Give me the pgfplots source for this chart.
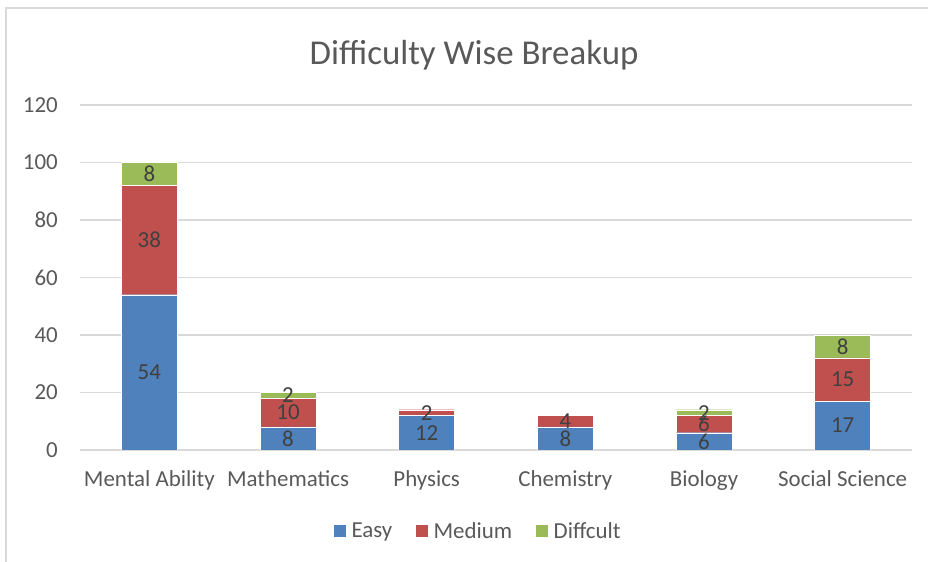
\documentclass[border=0pt]{standalone}
\usepackage{pgfplots}
\pgfplotsset{compat=1.18}
\usepackage{fontspec}
\setmainfont{Carlito}
\definecolor{easy}{HTML}{4F81BD}
\definecolor{medium}{HTML}{C0504D}
\definecolor{hard}{HTML}{9BBB59}
\definecolor{gridc}{HTML}{D9D9D9}
\definecolor{txt}{HTML}{595959}
\definecolor{lbl}{HTML}{404040}
\newcommand{\fs}{\fontsize{23}{27}\selectfont}
\pgfplotstableread{
x easy medium hard
0 54 38 8
1 8 10 2
2 12 2 0
3 8 4 0
4 6 6 2
5 17 15 8
}\datatab
\pgfplotstableread{
x y label
0 27 54
0 73 38
0 96 8
1 4 8
1 13 10
1 19 2
2 6 12
2 13 2
3 4 8
3 10 4
4 3 6
4 9 6
4 13 2
5 8.5 17
5 24.5 15
5 36 8
}\labtab
\begin{document}
\begin{tikzpicture}[x=1bp,y=1bp]
\useasboundingbox (0,0) rectangle (928,562);
\draw[gridc, line width=1.5bp] (6,0) -- (6,554) -- (930,554);
\node[txt, font=\fontsize{35}{40}\selectfont, anchor=base] at (474,497) {Difficulty Wise Breakup};
\begin{axis}[
  at={(80bp,112bp)}, anchor=south west,
  width=832bp, height=345bp, scale only axis,
  ybar stacked, bar width=56bp,
  xmin=-0.5, xmax=5.5, ymin=0, ymax=120,
  xtick={0,...,5},
  xticklabels={Mental Ability, Mathematics, Physics, Chemistry, Biology, Social Science},
  ytick={0,20,...,120},
  ymajorgrids, grid style={gridc, line width=1.3bp},
  axis line style={draw=none},
  major tick length=0pt,
  tick label style={font=\fs, text=txt, inner sep=0pt},
  xticklabel style={anchor=base, yshift=-37bp},
  yticklabel style={anchor=east, xshift=-22bp},
  /pgf/number format/assume math mode=true,
  legend style={at={(0.48,-0.235)}, anchor=center, draw=none, legend columns=-1, font=\fs, text=txt,
    /tikz/every even column/.append style={column sep=18bp},
    nodes={inner xsep=5bp}},
  legend image code/.code={\fill[#1] (0bp,-6.5bp) rectangle (13bp,6.5bp);},
]
\addplot[fill=easy, draw=white, line width=0.4bp] table[x=x, y=easy] {\datatab};
\addplot[fill=medium, draw=white, line width=0.4bp] table[x=x, y=medium] {\datatab};
\addplot[fill=hard, draw=white, line width=0.4bp] table[x=x, y=hard] {\datatab};
\legend{Easy, Medium, Diffcult}
\end{axis}
\begin{axis}[
  at={(80bp,112bp)}, anchor=south west,
  width=832bp, height=345bp, scale only axis,
  hide axis, clip=false,
  xmin=-0.5, xmax=5.5, ymin=0, ymax=120,
]
\addplot[draw=none, nodes near coords, point meta=explicit symbolic,
  nodes near coords style={font=\fs, text=lbl, anchor=center, inner sep=0pt}]
  table[x=x, y=y, meta=label] {\labtab};
\end{axis}
\end{tikzpicture}
\end{document}
